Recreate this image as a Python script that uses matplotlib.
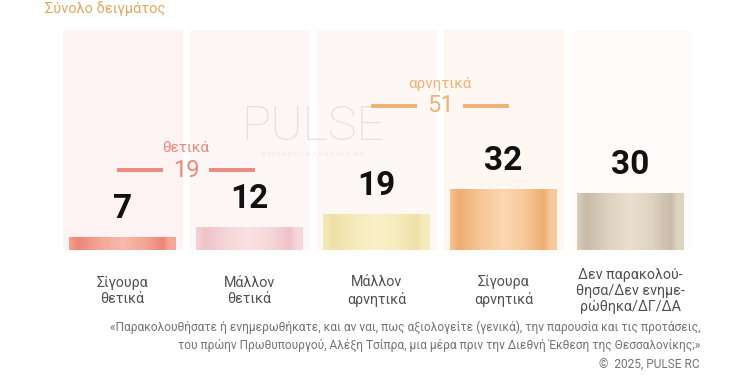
import numpy as np
import matplotlib
matplotlib.use("Agg")
import matplotlib.pyplot as plt
import matplotlib.colors as mcolors

# data
categories = ["Σίγουρα\nθετικά", "Μάλλον\nθετικά", "Μάλλον\nαρνητικά",
              "Σίγουρα\nαρνητικά", "Δεν παρακολού-\nθησα/Δεν ενημε-\nρώθηκα/ΔΓ/ΔΑ"]
values = [7, 12, 19, 32, 30]
group_names = ["θετικά", "αρνητικά"]
group_members = [[0, 1], [2, 3]]

title = "Σύνολο δειγμάτος"
question = ("«Παρακολουθήσατε ή ενημερωθήκατε, και αν ναι, πως αξιολογείτε (γενικά), την παρουσία και τις προτάσεις,\n"
            "του πρώην Πρωθυπουργού, Αλέξη Τσίπρα, μια μέρα πριν την Διεθνή Έκθεση της Θεσσαλονίκης;»")
copyright_text = "©  2025, PULSE RC"

# styles
bar_dark = ["#ee8676", "#efc3c8", "#eee0a6", "#efad72", "#c8bba8"]
bar_light = ["#f9bcae", "#fbe3e5", "#faf2cb", "#fddab6", "#ede2d2"]
col_bg = ["#fdf3f3", "#fdf6f6", "#fdf8f6", "#fff7f2", "#fefbfa"]
group_colors = ["#ec8a7c", "#efb274"]
group_y = [42, 76]  # value-scale height of the group totals

fig = plt.figure(figsize=(7.5, 3.75), dpi=100)
fig.patch.set_facecolor("white")

px_per_unit = 1.9
step = 127.0
x_left = -122.5 / step
x_right = (750 - 122.5) / step
ax = fig.add_axes([0, 125 / 375, 1, 220 / 375])
ytop = 220 / px_per_unit
ax.set_xlim(x_left, x_right)
ax.set_ylim(0, ytop)
ax.axis("off")

x = np.arange(len(values))

# faint background columns
ax.bar(x, [ytop] * len(x), width=120 / step, color=col_bg, zorder=0)

# watermark
ax.text(1.5, (250 - 127) / px_per_unit, "PULSE", ha="center", va="center",
        fontsize=35, family="Roboto", fontweight="light", color="#e2e2e2", zorder=1)
ax.text(1.5, (250 - 155) / px_per_unit, "R E S E A R C H  &  C O N S U L T I N G",
        ha="center", va="center", fontsize=4.5, family="Roboto", color="#e8e8e8", zorder=1)

# bars with metallic stripe gradient
bw = 107 / step
bars = ax.bar(x, values, width=bw, color=bar_dark, zorder=2)
prof_pos = [0, 0.08, 0.3, 0.5, 0.7, 0.88, 0.94, 1.0]
prof_val = [0.5, 0.0, 0.6, 0.95, 0.6, 0.0, 0.6, 0.6]
t = np.linspace(0, 1, 200)
light = np.interp(t, prof_pos, prof_val)
for i, b in enumerate(bars):
    c0 = np.array(mcolors.to_rgb(bar_dark[i]))
    c1 = np.array(mcolors.to_rgb(bar_light[i]))
    row = c0[None, :] * (1 - light[:, None]) + c1[None, :] * light[:, None]
    img = np.repeat(row[None, :, :], 2, axis=0)
    im = ax.imshow(img, extent=[b.get_x(), b.get_x() + bw, 0, values[i]],
                   aspect="auto", zorder=3, interpolation="bilinear")
    im.set_clip_path(b)
    ax.text(x[i], values[i] + 12 / px_per_unit, str(values[i]), ha="center", va="bottom",
            fontsize=24, fontweight="bold", family="Roboto", color="#111111", zorder=5)

ax.set_xlim(x_left, x_right)
ax.set_ylim(0, ytop)

# group totals
for g, members in enumerate(group_members):
    cx = np.mean([x[m] for m in members])
    total = sum(values[m] for m in members)
    gy = group_y[g]
    col = group_colors[g]
    ax.text(cx, gy, str(total), ha="center", va="center", fontsize=17,
            family="Roboto", color=col, zorder=5)
    ax.text(cx, gy + 11.5, group_names[g], ha="center", va="center", fontsize=11,
            family="Roboto", color=col, zorder=5)
    for s in (-1, 1):
        ax.plot([cx + s * 0.18, cx + s * 0.54], [gy, gy], color=col, lw=2.8,
                solid_capstyle="butt", zorder=5)

# category labels
for i, lab in enumerate(categories):
    fig.text((122.5 + step * i) / 750, 1 - 291 / 375, lab, ha="center", va="center",
             fontsize=10.3, family="Roboto", color="#505050", linespacing=1.2)

fig.text(45 / 750, 1 - 9 / 375, title, ha="left", va="center", fontsize=10.5,
         family="Roboto", color="#e3a85c")

fig.text(700 / 750, 1 - 336 / 375, question, ha="right", va="center", multialignment="right",
         fontsize=8.6, family="Roboto", color="#737373", linespacing=1.4)
fig.text(700 / 750, 1 - 365 / 375, copyright_text, ha="right", va="center",
         fontsize=8.6, family="Roboto", color="#737373")

fig.savefig("out.png", dpi=100, facecolor="white")
